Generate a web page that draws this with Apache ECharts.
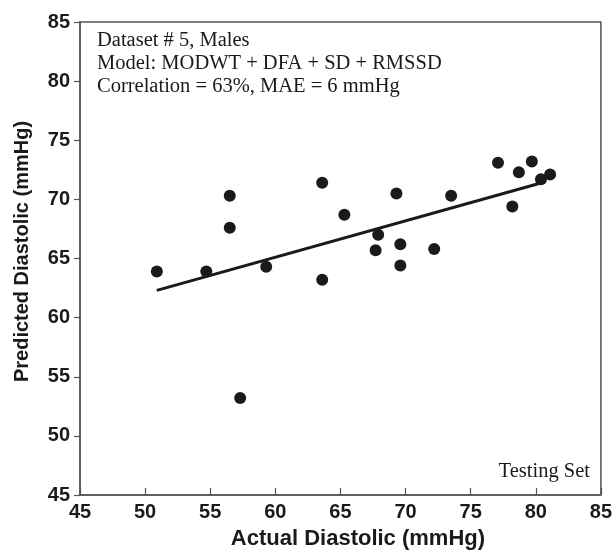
<!DOCTYPE html>
<html>
<head>
<meta charset="utf-8">
<script src="https://cdn.jsdelivr.net/npm/echarts@6/dist/echarts.min.js"></script>
<style>html,body{margin:0;padding:0;background:#fff}#c{width:615px;height:555px}</style>
</head>
<body>
<div id="c"></div>
<script>
// Data
var actual = [50.9, 54.7, 56.5, 56.5, 59.3, 57.3, 63.6, 65.3, 63.6, 69.3, 67.9, 67.7, 69.6, 69.6, 72.2, 73.5, 77.1, 79.7, 78.7, 78.2, 80.4, 81.1];
var predicted = [63.9, 63.9, 70.3, 67.6, 64.3, 53.2, 71.4, 68.7, 63.2, 70.5, 67.0, 65.7, 66.2, 64.4, 65.8, 70.3, 73.1, 73.2, 72.3, 69.4, 71.7, 72.1];
var fitX = [50.9, 80.6];
var fitY = [62.3, 71.45];
var annotationLines = ["Dataset # 5, Males", "Model: MODWT + DFA + SD + RMSSD", "Correlation = 63%, MAE = 6 mmHg"];
var cornerLabel = "Testing Set";
var xTitle = "Actual Diastolic (mmHg)";
var yTitle = "Predicted Diastolic (mmHg)";

var points = actual.map(function (a, i) { return [a, predicted[i]]; });
var fit = fitX.map(function (a, i) { return [a, fitY[i]]; });

var chart = echarts.init(document.getElementById('c'), null, {renderer: 'canvas'});
var axisColor = '#555';
var sans = 'Liberation Sans, Arial, sans-serif';
var labelStyle = {color: '#1a1a1a', fontFamily: sans, fontWeight: 'bold', fontSize: 20};
var serif = 'Liberation Serif, "Times New Roman", serif';

chart.setOption({
  animation: false,
  backgroundColor: '#fff',
  grid: {left: 80, right: 12, top: 22, bottom: 59, show: true, borderColor: axisColor, borderWidth: 1.5, backgroundColor: 'transparent'},
  xAxis: {
    type: 'value', min: 45, max: 85, interval: 5,
    name: xTitle, nameLocation: 'middle', nameGap: 33,
    nameTextStyle: {color: '#1a1a1a', fontFamily: sans, fontWeight: 'bold', fontSize: 22, padding: [0, 0, 0, 35]},
    axisLine: {show: true, lineStyle: {color: axisColor, width: 1.5}},
    axisTick: {show: true, inside: true, length: 7, lineStyle: {color: axisColor, width: 1.2}},
    axisLabel: Object.assign({margin: 7}, labelStyle),
    splitLine: {show: false}
  },
  yAxis: {
    type: 'value', min: 45, max: 85, interval: 5,
    name: yTitle, nameLocation: 'middle', nameGap: 48,
    nameTextStyle: {color: '#1a1a1a', fontFamily: sans, fontWeight: 'bold', fontSize: 20, padding: [0, 0, 0, 14]},
    axisLine: {show: true, lineStyle: {color: axisColor, width: 1.5}},
    axisTick: {show: true, inside: false, length: 6, lineStyle: {color: axisColor, width: 1.2}},
    axisLabel: Object.assign({margin: 10}, labelStyle),
    splitLine: {show: false}
  },
  graphic: [
    {type: 'text', left: 97, top: 29, style: {text: annotationLines.join('\n'), fill: '#1a1a1a', font: '20.5px ' + serif, lineHeight: 23}},
    {type: 'text', right: 25, top: 461, style: {text: cornerLabel, fill: '#1a1a1a', font: '20.5px ' + serif}}
  ],
  series: [
    {type: 'line', data: fit, symbol: 'none', lineStyle: {color: '#1a1a1a', width: 3}, z: 2},
    {type: 'scatter', data: points, symbol: 'circle', symbolSize: 12, itemStyle: {color: '#1a1a1a', opacity: 1}, z: 3}
  ]
});
</script>
</body>
</html>
